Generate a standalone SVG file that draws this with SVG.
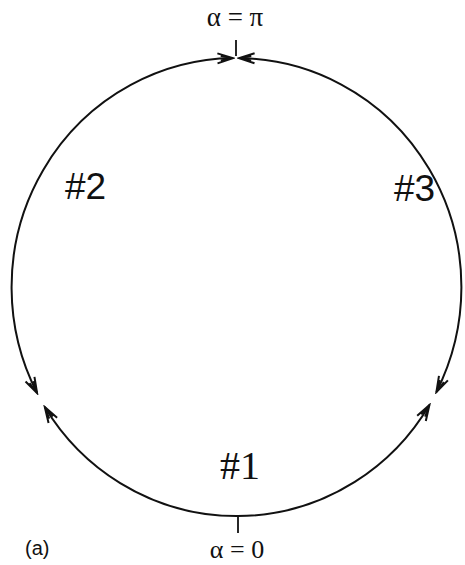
<svg xmlns="http://www.w3.org/2000/svg" width="465" height="565" viewBox="0 0 465 565">
<style>
.arc{fill:none;stroke:#111;stroke-width:2;marker-start:url(#ah);marker-end:url(#ah)}
.tick{stroke:#111;stroke-width:1.8}
.serif{font-family:"Liberation Serif","Times New Roman",serif;fill:#111}
.sans{font-family:"Liberation Sans",Arial,sans-serif;fill:#111}
</style>
<defs>
<marker id="ah" markerUnits="userSpaceOnUse" markerWidth="20" markerHeight="20" viewBox="-16 -8 18 16" refX="0" refY="0" orient="auto-start-reverse">
<path d="M-14,-4.5 L0,0 L-14,4.5 M-11,-2 L0,0 L-11,2" fill="none" stroke="#111" stroke-width="1.8" stroke-linejoin="miter"/>
</marker>
</defs>
<g id="connectors">
<path id="arc1" class="arc" d="M44.8,407 A225,229 0 0 0 429.4,405"/>
<path id="arc2" class="arc" d="M233,58.1 A225,229 0 0 0 37.1,393"/>
<path id="arc3" class="arc" d="M239,58.1 A225,229 0 0 1 436.4,392"/>
<line class="tick" x1="236" y1="40" x2="236" y2="56"/>
<line class="tick" x1="238" y1="517" x2="238" y2="533"/>
</g>
<g id="label-top"><text class="serif" x="235" y="26" font-size="27" text-anchor="middle">α = π</text></g>
<g id="label-bottom"><text class="serif" x="237" y="558" font-size="26" text-anchor="middle">α = 0</text></g>
<g id="node1"><text class="serif" x="220" y="479" font-size="40">#1</text></g>
<g id="node2"><text class="sans" x="65" y="199" font-size="37">#2</text></g>
<g id="node3"><text class="sans" x="394" y="201" font-size="37">#3</text></g>
<g id="caption"><text class="sans" x="25" y="555" font-size="20">(a)</text></g>
</svg>
